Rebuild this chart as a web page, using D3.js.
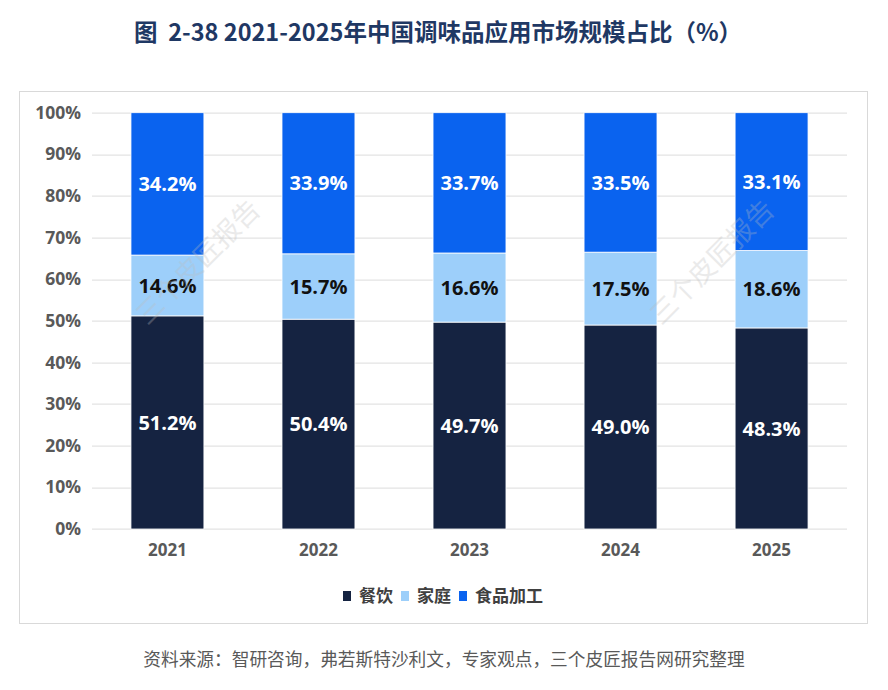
<!DOCTYPE html>
<html>
<head>
<meta charset="utf-8">
<script src="https://cdn.jsdelivr.net/npm/d3@7"></script>
<style>
  body { margin: 0; background: #fff; }
  svg text { font-family: "Open Sans", "Noto Sans CJK SC", sans-serif; }
</style>
</head>
<body>
<svg id="chart"></svg>
<script>
// data
const years = ["2021", "2022", "2023", "2024", "2025"];
const seriesNames = ["餐饮", "家庭", "食品加工"];
const catering = [51.2, 50.4, 49.7, 49.0, 48.3];
const household = [14.6, 15.7, 16.6, 17.5, 18.6];
const foodProcessing = [34.2, 33.9, 33.7, 33.5, 33.1];
const yTicks = [0, 10, 20, 30, 40, 50, 60, 70, 80, 90, 100];

const colors = ["#152341", "#9dcffa", "#0a63ef"];
const labelColors = ["#ffffff", "#111111", "#ffffff"];

const width = 888, height = 690;
const margin = {top: 112.7, right: 41, bottom: 161, left: 92};

const svg = d3.select("#chart")
    .attr("width", width)
    .attr("height", height);

// title
svg.append("text")
    .attr("x", 438)
    .attr("y", 41)
    .attr("text-anchor", "middle")
    .style("font-family", "'Noto Sans CJK SC', sans-serif")
    .style("font-size", "23.5px")
    .style("font-weight", "bold")
    .attr("fill", "#1f3864")
    .attr("xml:space", "preserve")
    .text("图  2-38 2021-2025年中国调味品应用市场规模占比（%）");

// outer frame
svg.append("rect")
    .attr("x", 19.5)
    .attr("y", 91.5)
    .attr("width", 848)
    .attr("height", 532)
    .attr("fill", "none")
    .attr("stroke", "#d9d9d9");

const innerW = width - margin.left - margin.right;
const innerH = height - margin.top - margin.bottom;

const chart = svg.append("g")
    .attr("transform", `translate(${margin.left},${margin.top})`);

const xScale = d3.scaleBand()
    .domain(years)
    .range([0, innerW])
    .paddingInner(0.517)
    .paddingOuter(0.258);

const yScale = d3.scaleLinear()
    .domain([0, 100])
    .range([innerH, 0]);

// gridlines
chart.append("g")
    .selectAll("line")
    .data(yTicks)
    .join("line")
    .attr("x1", 0)
    .attr("x2", innerW)
    .attr("y1", d => Math.round(yScale(d)) + 0.5)
    .attr("y2", d => Math.round(yScale(d)) + 0.5)
    .attr("stroke", "#e3e3e3")
    .attr("stroke-width", 1.2);

// y axis labels
const yAxis = d3.axisLeft(yScale)
    .tickValues(yTicks)
    .tickFormat(d => d + "%")
    .tickSize(0)
    .tickPadding(11);

chart.append("g")
    .call(yAxis)
    .call(g => g.select(".domain").remove())
    .selectAll("text")
    .style("font-size", "17.5px")
    .style("font-weight", "bold")
    .attr("fill", "#595959");

// x axis labels
const xAxis = d3.axisBottom(xScale)
    .tickSize(0)
    .tickPadding(15);

chart.append("g")
    .attr("transform", `translate(0,${innerH})`)
    .call(xAxis)
    .call(g => g.select(".domain").remove())
    .selectAll("text")
    .style("font-size", "17px")
    .style("font-weight", "bold")
    .attr("fill", "#595959");

// stacked data
const table = years.map((y, i) => ({
    year: y,
    "餐饮": catering[i],
    "家庭": household[i],
    "食品加工": foodProcessing[i]
}));
const stacked = d3.stack().keys(seriesNames)(table);

const layers = chart.selectAll(".layer")
    .data(stacked)
    .join("g")
    .attr("class", "layer");

layers.selectAll("rect")
    .data((d, i) => d.map(p => ({p, i})))
    .join("rect")
    .attr("x", d => xScale(d.p.data.year))
    .attr("width", xScale.bandwidth())
    .attr("y", d => yScale(d.p[1]))
    .attr("height", d => yScale(d.p[0]) - yScale(d.p[1]))
    .attr("fill", d => colors[d.i])
    .attr("stroke", "#ffffff")
    .attr("stroke-width", 0.8);

layers.selectAll("text")
    .data((d, i) => d.map(p => ({p, i})))
    .join("text")
    .attr("x", d => xScale(d.p.data.year) + xScale.bandwidth() / 2)
    .attr("y", d => (yScale(d.p[0]) + yScale(d.p[1])) / 2)
    .attr("dy", "0.36em")
    .attr("text-anchor", "middle")
    .style("font-size", "20px")
    .style("font-weight", "bold")
    .attr("fill", d => labelColors[d.i])
    .text(d => (d.p[1] - d.p[0]).toFixed(1) + "%");

// faint watermarks
[[198, 262], [712, 262]].forEach(([x, y]) => {
    svg.append("text")
        .attr("transform", `translate(${x},${y}) rotate(-45)`)
        .attr("text-anchor", "middle")
        .attr("dy", "0.35em")
        .style("font-family", "'Noto Sans CJK SC', sans-serif")
        .style("font-size", "27px")
        .attr("fill", "#bdbdbd")
        .attr("opacity", 0.3)
        .text("三个皮匠报告");
});

// legend
const legend = svg.append("g")
    .attr("transform", "translate(343,596)");
const legendX = [0, 58, 116];
seriesNames.forEach((name, i) => {
    const item = legend.append("g").attr("transform", `translate(${legendX[i]},0)`);
    item.append("rect")
        .attr("x", 0)
        .attr("y", -5)
        .attr("width", 8)
        .attr("height", 10)
        .attr("fill", colors[i]);
    item.append("text")
        .attr("x", 16)
        .attr("y", 0)
        .attr("dy", "0.36em")
        .style("font-family", "'Noto Sans CJK SC', sans-serif")
        .style("font-size", "17px")
        .style("font-weight", "bold")
        .attr("fill", "#404040")
        .text(name);
});

// source note
svg.append("text")
    .attr("x", 444)
    .attr("y", 666)
    .attr("text-anchor", "middle")
    .style("font-family", "'Noto Sans CJK SC', sans-serif")
    .style("font-size", "17.7px")
    .attr("fill", "#595959")
    .text("资料来源：智研咨询，弗若斯特沙利文，专家观点，三个皮匠报告网研究整理");
</script>
</body>
</html>
